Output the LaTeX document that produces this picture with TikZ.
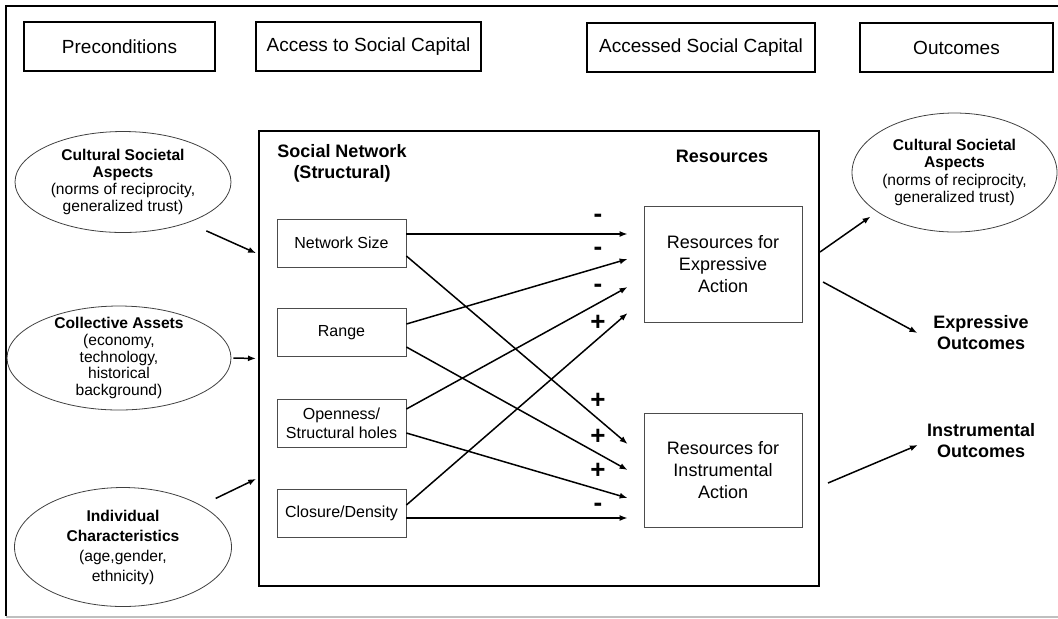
\documentclass[tikz,border=0pt]{standalone}
\usepackage{fontspec}
\setmainfont{Liberation Sans}
\usetikzlibrary{shapes.geometric,arrows.meta}

\begin{document}
\begin{tikzpicture}[x=0.5pt, y=-0.5pt,
  hdr/.style={draw, line width=0.7pt, minimum height=24.5pt, inner sep=0pt,
              font=\fontsize{9.5}{11}\selectfont},
  ell/.style={draw=black!75, ellipse, inner sep=-2pt, align=center,
              font=\fontsize{7.8}{8.6}\selectfont},
  inbox/.style={draw=black!70, minimum width=64.5pt, minimum height=24pt,
                inner sep=0pt, align=center, font=\fontsize{8}{9.5}\selectfont},
  resbox/.style={draw=black!70, minimum width=79pt, inner sep=0pt,
                 align=center, font=\fontsize{9}{11}\selectfont},
  bigtxt/.style={align=center, font=\bfseries\fontsize{9}{10.5}\selectfont},
  sign/.style={font=\bfseries\fontsize{13}{13}\selectfont, inner sep=0pt},
  arr/.style={-{Latex[length=4pt,width=3pt]}, line width=0.75pt}
]
  \useasboundingbox (0,0) rectangle (1058,618);
  % outer frame
  \draw[line width=1pt] (1058,6) -- (6,6) -- (6,616);
  \draw[black!25, line width=0.8pt] (6,617) -- (1058,617);

  % column headings
  \node[hdr, minimum width=95.5pt]  (pre)  at (119.5,46.5) {Preconditions};
  \node[hdr, minimum width=112.5pt] (acc)  at (368.5,46.5) {Access to Social Capital};
  \node[hdr, minimum width=114pt]   (accd) at (701,47.5)   {Accessed Social Capital};
  \node[hdr, minimum width=96.5pt]  (outc) at (956.5,47.5) {Outcomes};

  % preconditions
  \node[ell, minimum width=108pt, minimum height=50.5pt] (csa) at (123,182)
    {\textbf{Cultural Societal}\\\textbf{Aspects}\\(norms of reciprocity,\\generalized trust)};
  \node[ell, minimum width=112pt, minimum height=52pt, font=\fontsize{7.8}{8.3}\selectfont] (ca) at (119,358)
    {\textbf{Collective Assets}\\(economy,\\technology,\\historical\\background)};
  \node[ell, minimum width=108.5pt, minimum height=59.5pt, font=\fontsize{7.8}{10}\selectfont] (ic) at (123,547)
    {\textbf{Individual}\\\textbf{Characteristics}\\(age,gender,\\ethnicity)};

  % social network block
  \node[draw, line width=1pt, minimum width=280pt, minimum height=227.5pt, inner sep=0pt] (net) at (539,358.5) {};
  \node[bigtxt, inner sep=0pt] (snl)  at (342,163.5) {Social Network\\(Structural)};
  \node[bigtxt, inner sep=0pt] (resl) at (722,156)   {Resources};

  \node[inbox] (ns) at (341.5,243)   {Network Size};
  \node[inbox] (rg) at (341.5,332.5) {Range};
  \node[inbox] (op) at (341.5,423)   {Openness/\\Structural holes};
  \node[inbox] (cd) at (341.5,513)   {Closure/Density};

  \node[resbox, minimum height=58pt] (rex) at (723,264) {Resources for\\Expressive\\Action};
  \node[resbox, minimum height=57pt] (rin) at (723,470) {Resources for\\Instrumental\\Action};

  \draw[arr] ([yshift=4.5pt]ns.east)   -- ([xshift=-8pt,yshift=15pt]rex.west);
  \draw[arr] ([yshift=-6.5pt]ns.east)  -- ([xshift=-8pt,yshift=13pt]rin.west);
  \draw[arr] ([yshift=4.25pt]rg.east)  -- ([xshift=-8pt,yshift=2.5pt]rex.west);
  \draw[arr] ([yshift=-7.25pt]rg.east) -- ([xshift=-8pt]rin.west);
  \draw[arr] ([yshift=7pt]op.east)     -- ([xshift=-8pt,yshift=-11.5pt]rex.west);
  \draw[arr] ([yshift=-5pt]op.east)    -- ([xshift=-8pt,yshift=-14pt]rin.west);
  \draw[arr] ([yshift=4pt]cd.east)     -- ([xshift=-8pt,yshift=-24.5pt]rex.west);
  \draw[arr] ([yshift=-2.5pt]cd.east)  -- ([xshift=-8pt,yshift=-24pt]rin.west);

  % signs of the effects
  \foreach \y/\s [count=\i] in {218/-, 251/-, 288/-, 323/+, 401/+, 437/+, 471/+, 507/-}
    \node[sign] (s\i) at (598,\y) {\s};

  % outcomes
  \node[ell, minimum width=102.5pt, minimum height=59.5pt] (csb) at (954.5,172.5)
    {\textbf{Cultural Societal}\\\textbf{Aspects}\\(norms of reciprocity,\\generalized trust)};
  \node[bigtxt] (eo) at (981,333) {Expressive\\Outcomes};
  \node[bigtxt] (io) at (981,441) {Instrumental\\Outcomes};

  \draw[arr, shorten <=10pt, shorten >=1pt] (csa.-32) -- ([yshift=52.25pt]net.west);
  \draw[arr, shorten <=1pt, shorten >=1pt]  (ca.east) -- (net.west);
  \draw[arr, shorten <=8pt, shorten >=1pt]  (ic.28)   -- ([yshift=-59.75pt]net.west);

  \draw[arr, shorten >=4pt] ([yshift=53.25pt]net.east) -- (csb.207);
  \draw[arr] ([xshift=1.5pt,yshift=38.25pt]net.east) -- ([xshift=-4.5pt]eo.west);
  \draw[arr] ([xshift=4pt,yshift=-62.25pt]net.east)  -- ([xshift=-1pt,yshift=-2pt]io.west);
\end{tikzpicture}
\end{document}
